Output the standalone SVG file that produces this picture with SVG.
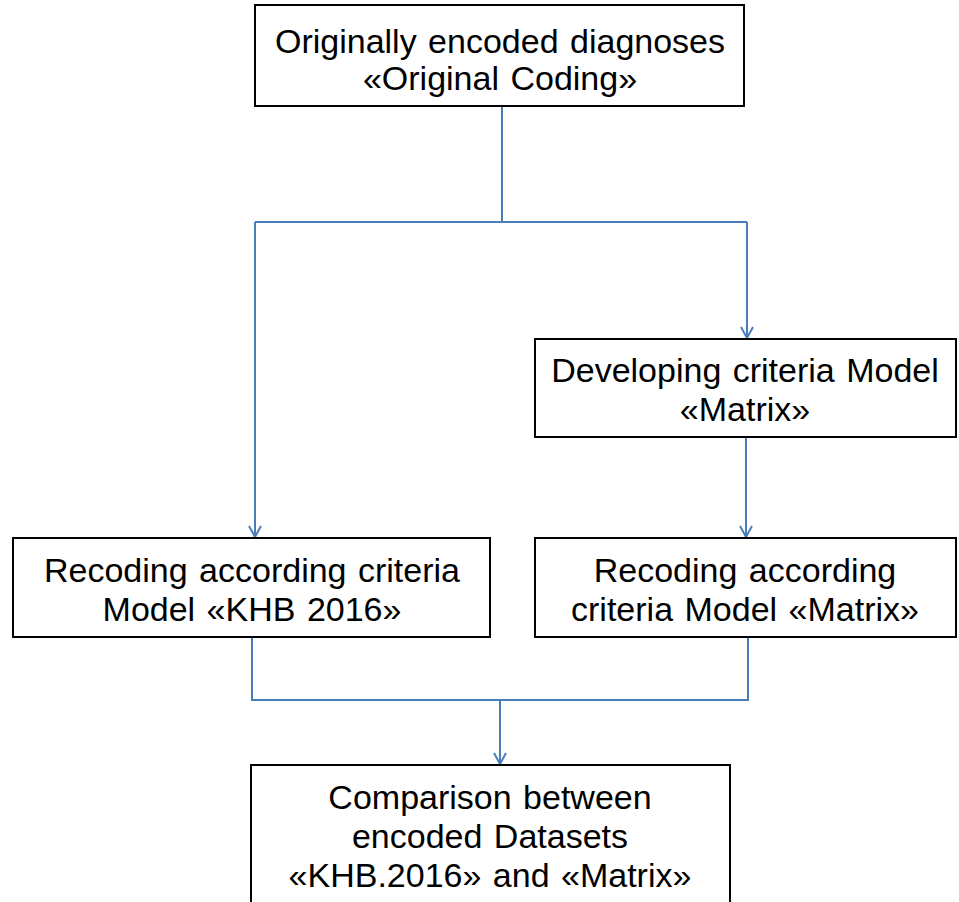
<svg xmlns="http://www.w3.org/2000/svg" width="959" height="902" viewBox="0 0 959 902">
<style>
.box{fill:#fff;stroke:#000;stroke-width:2}
.t{font-family:"Liberation Sans",Arial,sans-serif;font-size:34px;word-spacing:2px;fill:#000;text-anchor:middle}
.c{fill:none;stroke:#4a7ebb;stroke-width:2}
</style>
<defs>
<marker id="arr" markerWidth="14" markerHeight="14" refX="12" refY="7" orient="auto" markerUnits="userSpaceOnUse" viewBox="0 0 14 14">
<path d="M1,1 L12,7 L1,13" fill="none" stroke="#4a7ebb" stroke-width="2"/>
</marker>
</defs>
<rect width="959" height="902" fill="#fff"/>
<g id="connectors">
<path class="c" d="M502,106 V222 M255,222 H747"/>
<path class="c" d="M255,222 V537" marker-end="url(#arr)"/>
<path class="c" d="M747,222 V338" marker-end="url(#arr)"/>
<path class="c" d="M746,437 V537" marker-end="url(#arr)"/>
<path class="c" d="M252,637 V700 H748 V636"/>
<path class="c" d="M500,700 V764" marker-end="url(#arr)"/>
</g>
<g id="n1">
<rect class="box" x="255" y="5" width="489" height="101"/>
<text class="t" x="500" y="53">Originally encoded diagnoses</text>
<text class="t" x="500" y="90">«Original Coding»</text>
</g>
<g id="n2">
<rect class="box" x="535" y="339" width="421" height="98"/>
<text class="t" x="745" y="382">Developing criteria Model</text>
<text class="t" x="745" y="421">«Matrix»</text>
</g>
<g id="n3">
<rect class="box" x="13" y="538" width="477" height="99"/>
<text class="t" x="252" y="582">Recoding according criteria</text>
<text class="t" x="252" y="621">Model «KHB 2016»</text>
</g>
<g id="n4">
<rect class="box" x="535" y="538" width="421" height="99"/>
<text class="t" x="745" y="582">Recoding according</text>
<text class="t" x="745" y="621">criteria Model «Matrix»</text>
</g>
<g id="n5">
<rect class="box" x="251" y="765" width="479" height="150"/>
<text class="t" x="490" y="809">Comparison between</text>
<text class="t" x="490" y="848">encoded Datasets</text>
<text class="t" x="490" y="887">«KHB.2016» and «Matrix»</text>
</g>
</svg>
